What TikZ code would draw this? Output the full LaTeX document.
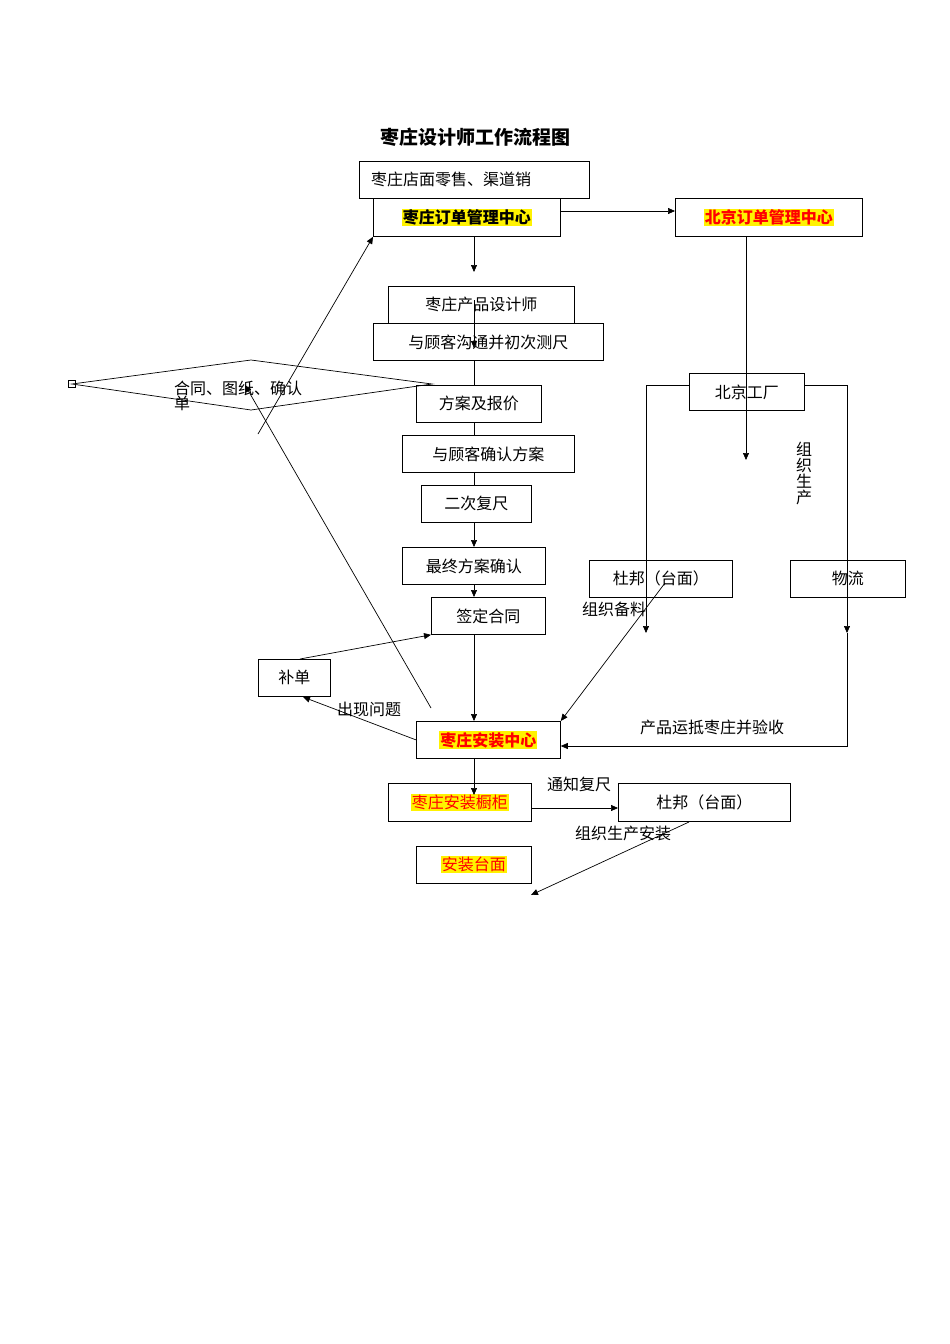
\documentclass[tikz,border=0pt]{standalone}
\usepackage{fontspec}
\setmainfont{Noto Sans CJK SC}
\usetikzlibrary{arrows.meta}
\begin{document}
\begin{tikzpicture}[x=1pt,y=-1pt,
  bx/.style={draw,line width=0.8pt,inner sep=0pt,anchor=north west},
  t/.style={font=\fontsize{16}{18}\selectfont,inner sep=0pt},
  hl/.style={fill=yellow,inner sep=1pt,font=\fontsize{16}{18}\selectfont\bfseries},
  ar/.style={-{Triangle[length=7pt,width=6pt]},line width=0.7pt},
  ln/.style={line width=0.7pt}]
\useasboundingbox[fill=white] (0,0) rectangle (950,1344);
\node[font=\fontsize{19}{22}\selectfont\bfseries] (title) at (475,137) {枣庄设计师工作流程图};
\newcommand{\bxx}[6]{\node[bx,minimum width=#4,minimum height=#5] (#1) at (#2,#3) {}; \node[t] at (#1.center) {#6};}
\bxx{sale}{359}{161}{230pt}{37pt}{}
\node[t,anchor=west] at (371,179) {枣庄店面零售、渠道销};
\bxx{zzo}{373}{198}{187pt}{38pt}{}
\node[hl] at (zzo.center) {枣庄订单管理中心};
\bxx{bjo}{675}{198}{187pt}{38pt}{}
\node[hl,text=red] at (bjo.center) {北京订单管理中心};
\bxx{des}{388}{286}{186pt}{37pt}{枣庄产品设计师}
\bxx{comm}{373}{323}{230pt}{37pt}{与顾客沟通并初次测尺}
\node[draw,line width=0.8pt] (dia) at (72,384) {};
\draw[ln] (72,384) -- (251,360) -- (432,384) -- (251,410) -- cycle;
\node[t,anchor=north west,align=left] (diat) at (174,381) {合同、图纸、确认\\[-3pt]单};
\bxx{plan}{416}{385}{125pt}{37pt}{方案及报价}
\bxx{conf}{402}{435}{172pt}{37pt}{与顾客确认方案}
\bxx{sec}{421}{485}{110pt}{37pt}{二次复尺}
\bxx{fin}{402}{547}{143pt}{37pt}{最终方案确认}
\bxx{sign}{431}{597}{114pt}{37pt}{签定合同}
\bxx{bu}{258}{659}{72pt}{37pt}{补单}
\bxx{inst}{416}{721}{144pt}{37pt}{}
\node[hl,text=red] at (inst.center) {枣庄安装中心};
\bxx{cab}{388}{783}{143pt}{38pt}{}
\node[hl,font=\fontsize{16}{18}\selectfont,text=red] at (cab.center) {枣庄安装橱柜};
\bxx{dup2}{618}{783}{172pt}{38pt}{杜邦（台面）}
\bxx{tm}{416}{846}{115pt}{37pt}{}
\node[hl,font=\fontsize{16}{18}\selectfont,text=red] at (tm.center) {安装台面};
\bxx{bjf}{689}{373}{115pt}{37pt}{北京工厂}
\bxx{dup1}{589}{560}{143pt}{37pt}{杜邦（台面）}
\bxx{wl}{790}{560}{115pt}{37pt}{物流}
% connectors
\draw[ar] (zzo.east |- 0,211) -- (bjo.west |- 0,211);
\draw[ar] (474,236) -- (474,272);
\draw[ar] (474,300) -- (474,348);
\draw[ln] (474,360) -- (474,385);
\draw[ln] (474,422) -- (474,435);
\draw[ln] (474,472) -- (474,485);
\draw[ar] (474,522) -- (474,547);
\draw[ar] (474,584) -- (474,597);
\draw[ar] (474,634) -- (474,721);
\draw[ar] (474,758) -- (474,795);
\draw[ar] (746,236) -- (746,460);
\coordinate (fl) at (646,633);
\coordinate (fr) at (847,633);
\draw[ar] (bjf.west |- 0,385) -| (fl);
\draw[ar] (bjf.east |- 0,385) -| (fr);
\draw[ar] (847,633) |- (inst.east |- 0,746);
\node[t,align=center] at (804,473) {组\\[-2pt]织\\[-2pt]生\\[-2pt]产};
\node[t,anchor=west] at (582,609) {组织备料};
\node[t,anchor=west] at (640,727) {产品运抵枣庄并验收};
\node[t,anchor=west] at (337,709) {出现问题};
\node[t,anchor=west] at (547,784) {通知复尺};
\node[t,anchor=west] at (575,833) {组织生产安装};
\draw[ar] (665,583) -- (inst.north east);
\draw[ar] (300,659) -- (sign.south west);
\draw[ar] (inst.west) -- (303,697);
\coordinate (a1) at (431,708);
\coordinate (a2) at (245,385);
\draw[ar] (a1) -- (a2);
\coordinate (b1) at (258,434);
\draw[ar] (b1) -- (zzo.south west);
\draw[ar] (cab.east |- 0,808) -- (dup2.west |- 0,808);
\coordinate (c2) at (531,895);
\draw[ar] (689,822) -- (c2);
\end{tikzpicture}
\end{document}
